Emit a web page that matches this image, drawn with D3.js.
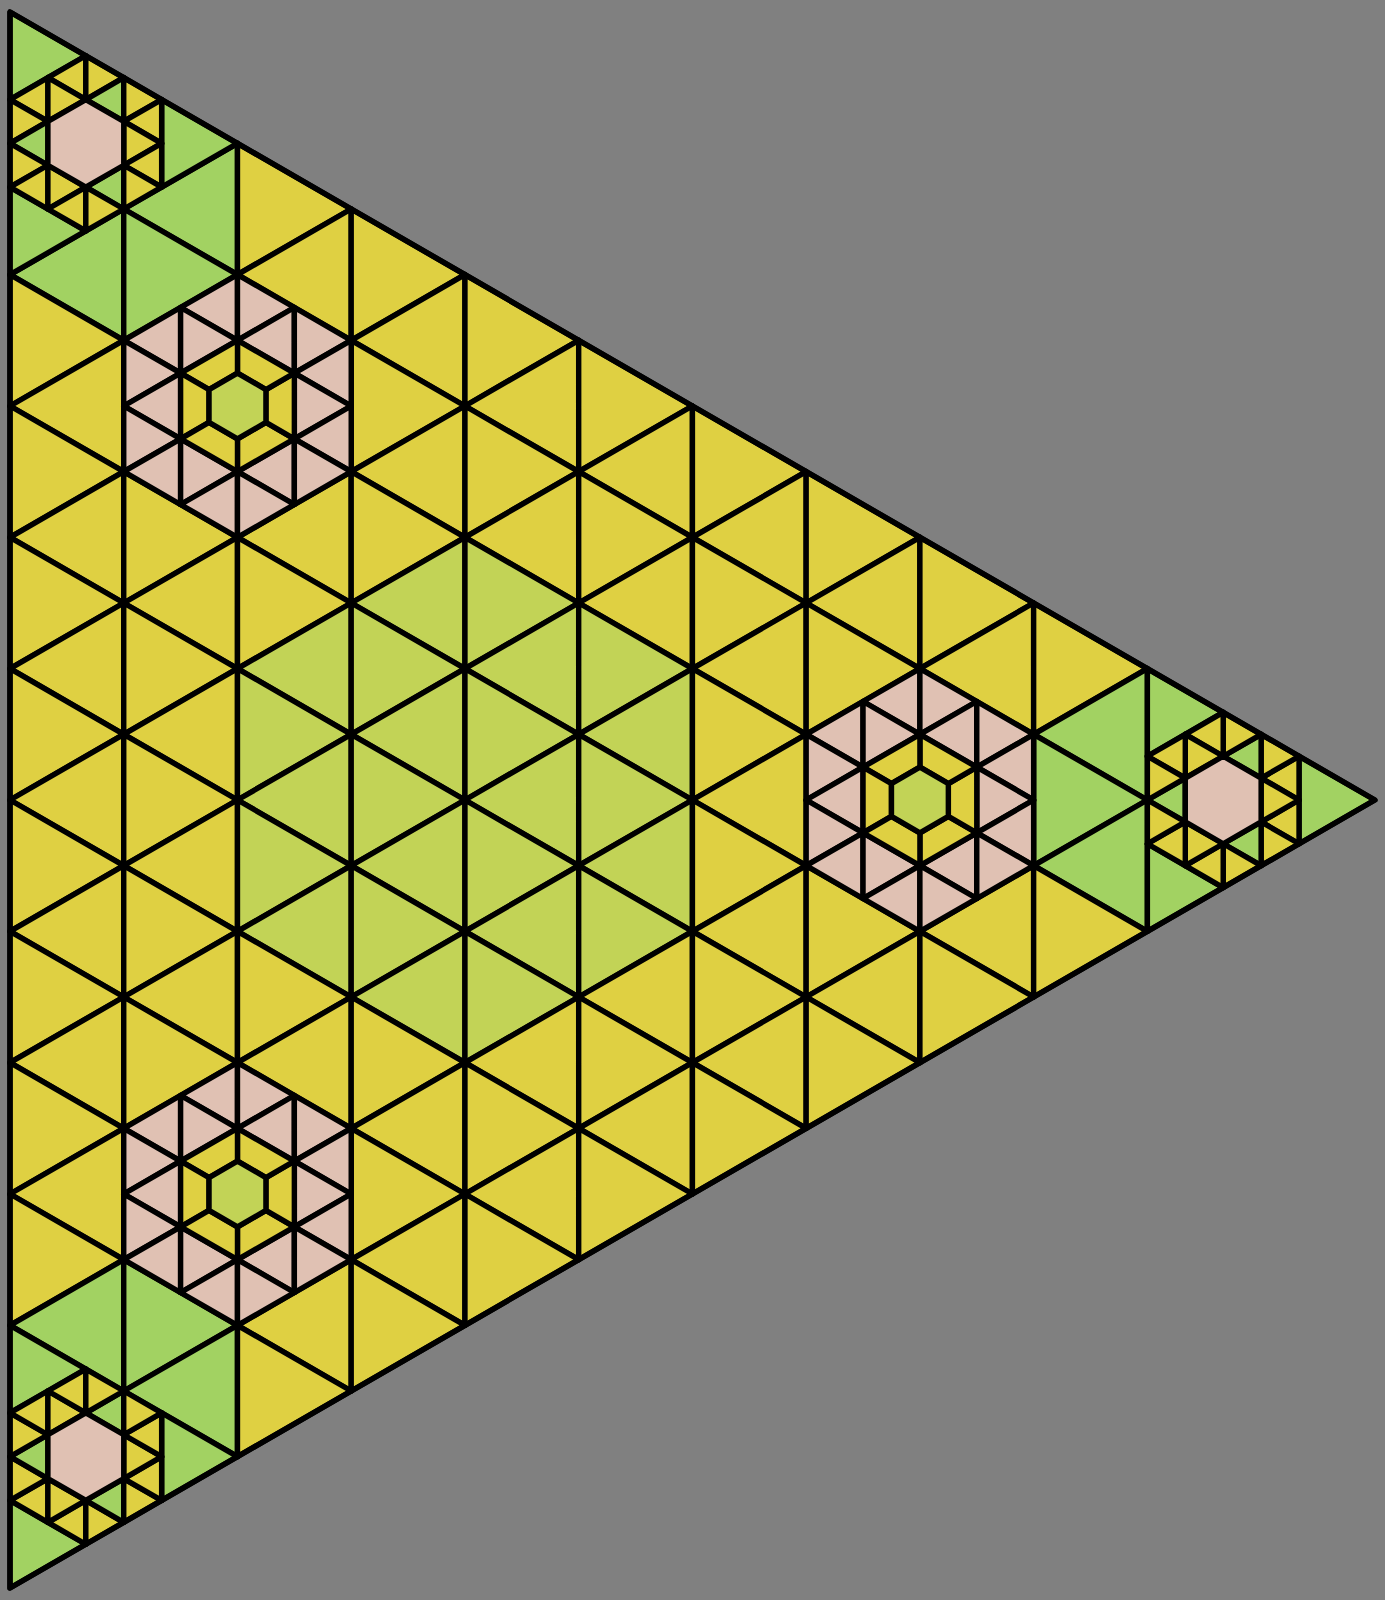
<!DOCTYPE html>
<html>
<head>
<meta charset="utf-8">
<script src="https://cdn.jsdelivr.net/npm/d3@7"></script>
<style>
  html, body { margin: 0; padding: 0; background: #808080; }
  svg { display: block; }
</style>
</head>
<body>
<svg id="chart"></svg>
<script>
// big triangle is cut into 12 lattice steps per side
const divisions = 12;
// corners of the big triangle, lattice coords [row i, column j]
const cornerPoints = [[0, 0], [12, 0], [0, 12]];
// lattice vertices where the pink stars sit
const starCentres = [[2, 2], [8, 2], [2, 8]];
// central olive hexagon: every barycentric coord inside this band
const oliveBand = [2, 6];
// tile kinds and their fills
const tileKinds = ["yellow", "olive", "lime", "pink"];
const tileColors = ["#dfd042", "#c2d356", "#a2d262", "#e0c1b3"];

const width = 1385;
const height = 1600;
const side = 1576;
const originX = 10, originY = 12;
const strokeW = 5.4;

const svg = d3.select("#chart")
  .attr("width", width)
  .attr("height", height);

svg.append("rect")
  .attr("width", width)
  .attr("height", height)
  .attr("fill", "#808080");

// column j -> x, row (i + j/2) -> y
const x = d3.scaleLinear().domain([0, divisions]).range([originX, originX + side * Math.sqrt(3) / 2]);
const y = d3.scaleLinear().domain([0, divisions]).range([originY, originY + side]);
const color = d3.scaleOrdinal().domain(tileKinds).range(tileColors);

const pt = ([i, j]) => [x(j), y(i + j / 2)];
const line = d3.line().curve(d3.curveLinearClosed);

const tiles = [];
const same = (p, q) => Math.abs(p[0] - q[0]) < 1e-9 && Math.abs(p[1] - q[1]) < 1e-9;
const centroid = pts => [d3.mean(pts, p => p[0]), d3.mean(pts, p => p[1])];

// ---- main lattice ----
for (let i = 0; i < divisions; i++) {
  for (let j = 0; i + j < divisions; j++) {
    const tris = [[[i, j], [i + 1, j], [i, j + 1]]];
    if (i + j < divisions - 1) tris.push([[i + 1, j], [i, j + 1], [i + 1, j + 1]]);
    tris.forEach(t => {
      const [ci, cj] = centroid(t);
      const bc = [ci, cj, divisions - ci - cj];
      const mx = d3.max(bc), mn = d3.min(bc);
      if (mx > 10) return; // corner pieces drawn later
      if (starCentres.some(s => t.some(p => same(p, s)))) return;
      let kind = "yellow";
      if (mn > oliveBand[0] && mx < oliveBand[1]) kind = "olive";
      else if (mx > 9 && mx < 10 && mn > 0.5) kind = "lime";
      tiles.push({ pts: t, kind });
    });
  }
}

// ---- corner pieces, cut in thirds of a lattice step ----
cornerPoints.forEach((X, c) => {
  const Y = cornerPoints[(c + 1) % 3];
  const Z = cornerPoints[(c + 2) % 3];
  const f = ([a, b]) => [
    X[0] + a * (Y[0] - X[0]) / 36 + b * (Z[0] - X[0]) / 36,
    X[1] + a * (Y[1] - X[1]) / 36 + b * (Z[1] - X[1]) / 36
  ];
  [[0, 0], [4, 0], [0, 4]].forEach(([a, b]) => {
    tiles.push({ pts: [[a, b], [a + 2, b], [a, b + 2]].map(f), kind: "lime" });
  });
  for (let a = 0; a < 6; a++) {
    for (let b = 0; a + b < 6; b++) {
      const tris = [[[a, b], [a + 1, b], [a, b + 1]]];
      if (a + b < 5) tris.push([[a + 1, b], [a, b + 1], [a + 1, b + 1]]);
      tris.forEach(t => {
        const [ca, cb] = centroid(t);
        const bc = [ca, cb, 6 - ca - cb].sort(d3.ascending);
        if (bc[2] > 4) return;
        if (t.some(p => same(p, [2, 2]))) return;
        const mid = Math.abs(bc[0] - 2 / 3) < 1e-6 && Math.abs(bc[1] - 8 / 3) < 1e-6;
        tiles.push({ pts: t.map(f), kind: mid ? "lime" : "yellow" });
      });
    }
  }
  const hex = [[3, 2], [2, 3], [1, 3], [1, 2], [2, 1], [3, 1]];
  tiles.push({ pts: hex.map(f), kind: "pink" });
});

// ---- pink stars, cut in halves of a lattice step ----
const dirs = [[1, 0], [0, 1], [-1, 1], [-1, 0], [0, -1], [1, -1]];
starCentres.forEach(P => {
  const h = ([a, b]) => [P[0] + a / 2, P[1] + b / 2];
  for (let a = -3; a <= 2; a++) {
    for (let b = -3; b <= 2; b++) {
      const tris = [
        [[a, b], [a + 1, b], [a, b + 1]],
        [[a + 1, b], [a, b + 1], [a + 1, b + 1]]
      ];
      tris.forEach(t => {
        const [ca, cb] = centroid(t);
        if (Math.abs(ca) >= 2 || Math.abs(cb) >= 2 || Math.abs(ca + cb) >= 2) return;
        if (t.some(p => same(p, [0, 0]))) return;
        tiles.push({ pts: t.map(h), kind: "pink" });
      });
    }
  }
  dirs.forEach((d1, k) => {
    const d2 = dirs[(k + 1) % 6];
    const trap = [[d1[0] / 2, d1[1] / 2], d1, d2, [d2[0] / 2, d2[1] / 2]];
    tiles.push({ pts: trap.map(h), kind: "yellow" });
  });
  tiles.push({ pts: dirs.map(d => h([d[0] / 2, d[1] / 2])), kind: "olive" });
});

svg.append("g")
  .selectAll("path")
  .data(tiles)
  .join("path")
  .attr("d", d => line(d.pts.map(pt)))
  .attr("fill", d => color(d.kind))
  .attr("stroke", "#000")
  .attr("stroke-width", strokeW)
  .attr("stroke-linejoin", "round");

// outer border
svg.append("path")
  .attr("d", line(cornerPoints.map(pt)))
  .attr("fill", "none")
  .attr("stroke", "#000")
  .attr("stroke-width", strokeW)
  .attr("stroke-linejoin", "round");
</script>
</body>
</html>
